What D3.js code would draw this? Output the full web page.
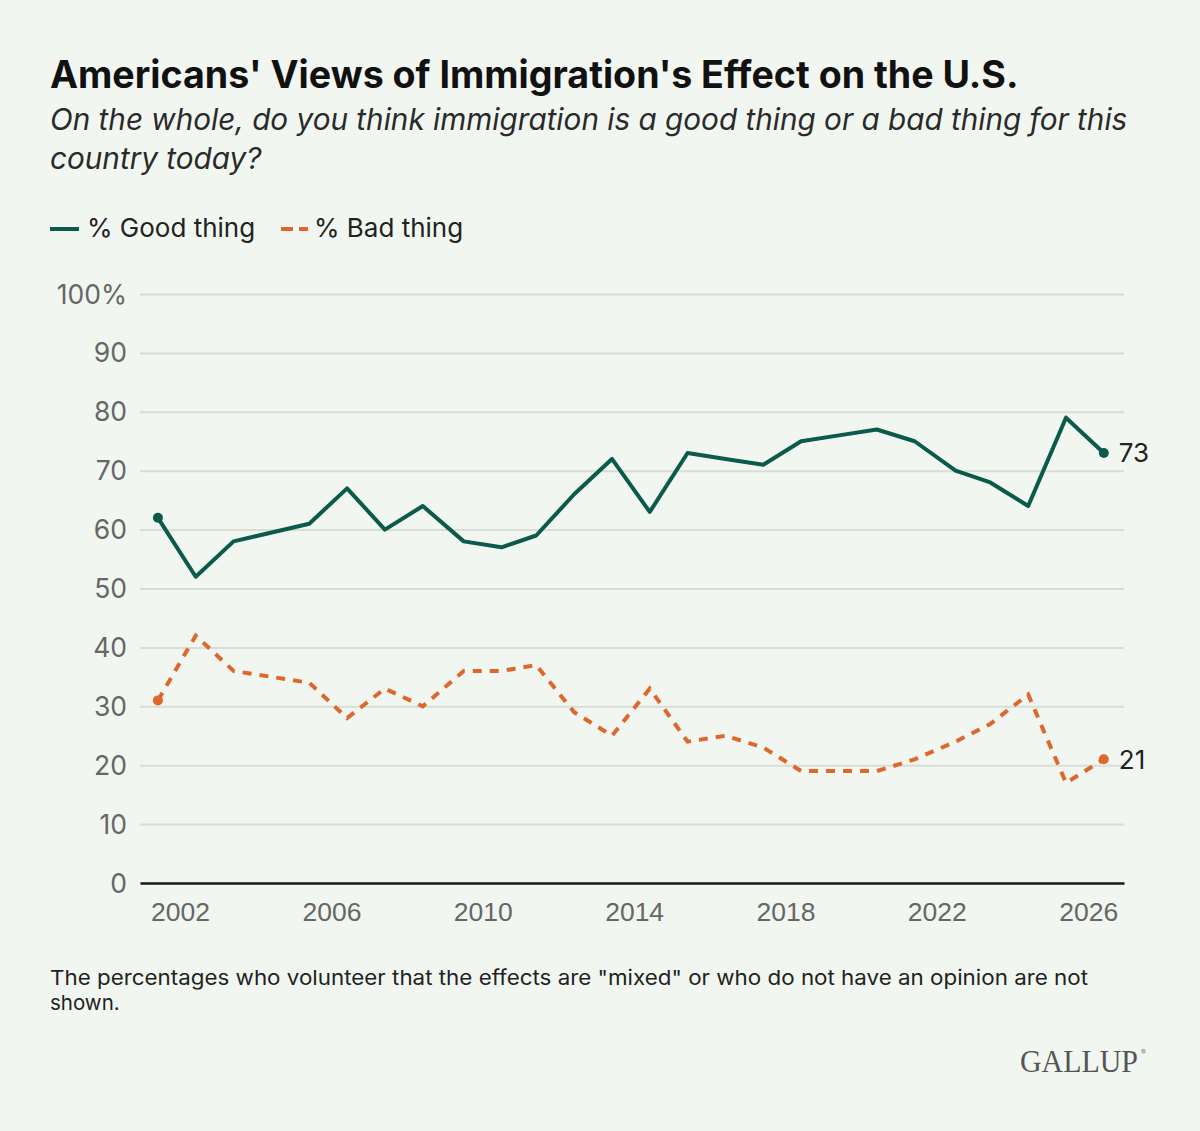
<!DOCTYPE html>
<html>
<head>
<meta charset="utf-8">
<script src="https://cdn.jsdelivr.net/npm/d3@7"></script>
<style>
  html, body { margin: 0; padding: 0; background: #f1f7f0; }
  svg { display: block; font-family: Inter, "Noto Sans", sans-serif; }
  .grid line { stroke: #d8ddd6; stroke-width: 2; }
  .tick text { fill: #666; font-size: 26.5px; }
</style>
</head>
<body>
<svg width="1200" height="1131"></svg>
<script>
// survey years, month of fieldwork, and % answers
const years  = [2001, 2002, 2003, 2005, 2006, 2007, 2008, 2009, 2010, 2011, 2012, 2013, 2014,
                2015, 2016, 2017, 2018, 2019, 2020, 2021, 2022, 2023, 2024, 2025, 2026];
const months = [6, 6, 6, 6, 6, 6, 6, 7, 7, 6, 6, 6, 6,
                6, 6, 6, 6, 6, 6, 6, 7, 6, 6, 6, 6];
const goodThing = [62, 52, 58, 61, 67, 60, 64, 58, 57, 59, 66, 72, 63,
                   73, 72, 71, 75, 76, 77, 75, 70, 68, 64, 79, 73];
const badThing  = [31, 42, 36, 34, 28, 33, 30, 36, 36, 37, 29, 25, 33,
                   24, 25, 23, 19, 19, 19, 21, 24, 27, 32, 17, 21];
const yTicks = [0, 10, 20, 30, 40, 50, 60, 70, 80, 90, 100];
const xTickYears = [2002, 2006, 2010, 2014, 2018, 2022, 2026];

const green = '#0b5a4a';
const orange = '#e0672c';

const svg = d3.select('svg');

const x = d3.scaleTime()
    .domain([new Date(2000, 11, 10), new Date(2026, 11, 13)])
    .range([140, 1124]);

const y = d3.scaleLinear()
    .domain([0, 100])
    .range([883, 294]);

const rows = years.map(function(yr, i) {
    return {date: new Date(yr, months[i] - 1, 1), good: goodThing[i], bad: badThing[i]};
});

// titles
svg.append('text')
    .attr('x', 50).attr('y', 88)
    .attr('font-size', 37.6).attr('font-weight', 700).attr('fill', '#111')
    .text("Americans' Views of Immigration's Effect on the U.S.");

svg.append('text')
    .attr('x', 50).attr('y', 130)
    .attr('font-size', 29.7).attr('font-style', 'italic').attr('fill', '#2a2a2a')
    .text('On the whole, do you think immigration is a good thing or a bad thing for this');
svg.append('text')
    .attr('x', 50).attr('y', 169)
    .attr('font-size', 29.7).attr('font-style', 'italic').attr('fill', '#2a2a2a')
    .text('country today?');

// legend
const legend = svg.append('g').attr('class', 'legend');
legend.append('line')
    .attr('x1', 50).attr('x2', 79).attr('y1', 229).attr('y2', 229)
    .attr('stroke', green).attr('stroke-width', 4);
legend.append('text')
    .attr('x', 87).attr('y', 237)
    .attr('font-size', 26).attr('fill', '#222')
    .text('% Good thing');
legend.append('line')
    .attr('x1', 281).attr('x2', 308).attr('y1', 229).attr('y2', 229)
    .attr('stroke', orange).attr('stroke-width', 4)
    .attr('stroke-dasharray', '12,6');
legend.append('text')
    .attr('x', 314).attr('y', 237)
    .attr('font-size', 26).attr('fill', '#222')
    .text('% Bad thing');

// grid + y axis
svg.append('g')
    .attr('class', 'grid')
    .attr('transform', 'translate(140,0)')
    .call(d3.axisLeft(y).tickValues(yTicks).tickSize(-984).tickFormat(''))
    .call(function(g) { g.select('.domain').remove(); });

svg.append('g')
    .attr('class', 'y-labels')
    .selectAll('text')
    .data(yTicks)
    .enter().append('text')
    .attr('x', 127)
    .attr('y', function(d) { return y(d); })
    .attr('dy', '0.36em')
    .attr('text-anchor', 'end')
    .attr('font-size', 26.5)
    .attr('fill', '#666')
    .text(function(d) { return d === 100 ? '100%' : d; });

// x axis
const xAxis = svg.append('g')
    .attr('transform', `translate(0,${y(0)})`)
    .call(d3.axisBottom(x)
        .tickValues(xTickYears.map(function(yr) { return new Date(yr, 0, 1); }))
        .tickSize(0)
        .tickPadding(19)
        .tickFormat(d3.timeFormat('%Y')));
xAxis.select('.domain').attr('stroke', '#1a1a1a').attr('stroke-width', 2.5);
xAxis.selectAll('.tick text').attr('dy', '0.71em');

// lines
const lineGood = d3.line()
    .x(function(d) { return x(d.date); })
    .y(function(d) { return y(d.good); });
const lineBad = d3.line()
    .x(function(d) { return x(d.date); })
    .y(function(d) { return y(d.bad); });

svg.append('path')
    .datum(rows)
    .attr('fill', 'none')
    .attr('stroke', orange)
    .attr('stroke-width', 4)
    .attr('stroke-dasharray', '9,8')
    .attr('d', lineBad);

svg.append('path')
    .datum(rows)
    .attr('fill', 'none')
    .attr('stroke', green)
    .attr('stroke-width', 4)
    .attr('stroke-linejoin', 'round')
    .attr('d', lineGood);

// endpoint dots
const first = rows[0];
const last = rows[rows.length - 1];
[[first, 'good', green], [last, 'good', green], [first, 'bad', orange], [last, 'bad', orange]]
    .forEach(function(p) {
        svg.append('circle')
            .attr('cx', x(p[0].date))
            .attr('cy', y(p[0][p[1]]))
            .attr('r', 5)
            .attr('fill', p[2]);
    });

// end labels
[['good', last.good], ['bad', last.bad]].forEach(function(p) {
    svg.append('text')
        .attr('x', x(last.date) + 15)
        .attr('y', y(p[1]))
        .attr('dy', '0.36em')
        .attr('font-size', 26)
        .attr('fill', '#222')
        .text(p[1]);
});

// footnote
svg.append('text')
    .attr('x', 50).attr('y', 985)
    .attr('font-size', 20.5).attr('fill', '#222')
    .attr('textLength', 1038).attr('lengthAdjust', 'spacingAndGlyphs')
    .text('The percentages who volunteer that the effects are "mixed" or who do not have an opinion are not');
svg.append('text')
    .attr('x', 50).attr('y', 1010)
    .attr('font-size', 20.5).attr('fill', '#222')
    .text('shown.');

// logo
svg.append('text')
    .attr('x', 1020).attr('y', 1072)
    .attr('font-family', '"Liberation Serif", "DejaVu Serif", serif')
    .attr('font-size', 31).attr('fill', '#555')
    .attr('textLength', 118).attr('lengthAdjust', 'spacingAndGlyphs')
    .text('GALLUP');
svg.append('text')
    .attr('x', 1141).attr('y', 1055)
    .attr('font-size', 7).attr('fill', '#777')
    .text('®');
</script>
</body>
</html>
